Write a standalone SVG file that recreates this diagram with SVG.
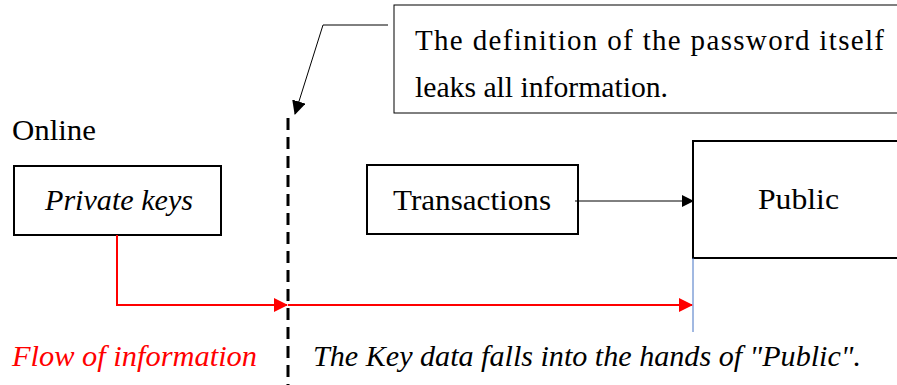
<svg xmlns="http://www.w3.org/2000/svg" width="897" height="385" viewBox="0 0 897 385">
  <style>
    text { font-family: "Liberation Serif", "Times New Roman", serif; font-size: 29px; fill: #000; }
    .i { font-style: italic; }
    .red { fill: #ff0000; }
    .box { fill: #fff; stroke: #000; stroke-width: 2; }
  </style>
  <defs>
    <marker id="ah-black" markerWidth="12" markerHeight="12" refX="11" refY="6" orient="auto" markerUnits="userSpaceOnUse" viewBox="0 0 12 12">
      <path d="M0,0 L12,6 L0,12 z" fill="#000"/>
    </marker>
    <marker id="ah-red" markerWidth="14" markerHeight="14" refX="13" refY="7" orient="auto" markerUnits="userSpaceOnUse" viewBox="0 0 14 14">
      <path d="M0,0 L14,7 L0,14 z" fill="#ff0000"/>
    </marker>
    <marker id="ah-call" markerWidth="14" markerHeight="14" refX="13" refY="7" orient="auto" markerUnits="userSpaceOnUse" viewBox="0 0 14 14">
      <path d="M0,0 L14,7 L0,14 z" fill="#000"/>
    </marker>
  </defs>

  <rect width="897" height="385" fill="#fff"/>

  <!-- boundary between private and public sides -->
  <line x1="288" y1="118" x2="288" y2="385" stroke="#000" stroke-width="3" stroke-dasharray="12,7"/>

  <g id="callout">
    <rect x="394" y="5" width="510" height="108" fill="#fff" stroke="#000" stroke-width="1"/>
    <text x="415" y="50" font-size="27" textLength="469" lengthAdjust="spacing">The definition of the password itself</text>
    <text x="415" y="97" font-size="27" textLength="253" lengthAdjust="spacingAndGlyphs">leaks all information.</text>
  </g>

  <g id="label-online">
    <text x="12" y="140" textLength="84" lengthAdjust="spacingAndGlyphs">Online</text>
  </g>

  <g id="private-keys">
    <rect class="box" x="14" y="166" width="207" height="69"/>
    <text class="i" x="45" y="210" textLength="148" lengthAdjust="spacingAndGlyphs">Private keys</text>
  </g>

  <g id="transactions">
    <rect class="box" x="367" y="165" width="211" height="69"/>
    <text x="393" y="210" textLength="158" lengthAdjust="spacingAndGlyphs">Transactions</text>
  </g>

  <g id="public">
    <rect class="box" x="693" y="141" width="215" height="117"/>
    <text x="758" y="209" textLength="81" lengthAdjust="spacingAndGlyphs">Public</text>
  </g>

  <g id="connectors">
    <polyline points="388,25 323,25 295,114" fill="none" stroke="#000" stroke-width="1" marker-end="url(#ah-call)"/>
    <line x1="575" y1="201" x2="693" y2="201" stroke="#000" stroke-width="1" marker-end="url(#ah-black)"/>
    <polyline points="117,235 117,305 287,305" fill="none" stroke="#ff0000" stroke-width="2" marker-end="url(#ah-red)"/>
    <line x1="288" y1="305" x2="692" y2="305" stroke="#ff0000" stroke-width="2" marker-end="url(#ah-red)"/>
    <line x1="693" y1="258" x2="693" y2="332" stroke="#4472c4" stroke-width="1"/>
  </g>

  <g id="captions">
    <text class="i red" x="12" y="366" textLength="245" lengthAdjust="spacingAndGlyphs">Flow of information</text>
    <text class="i" x="313" y="366" textLength="548" lengthAdjust="spacingAndGlyphs">The Key data falls into the hands of "Public".</text>
  </g>
</svg>
